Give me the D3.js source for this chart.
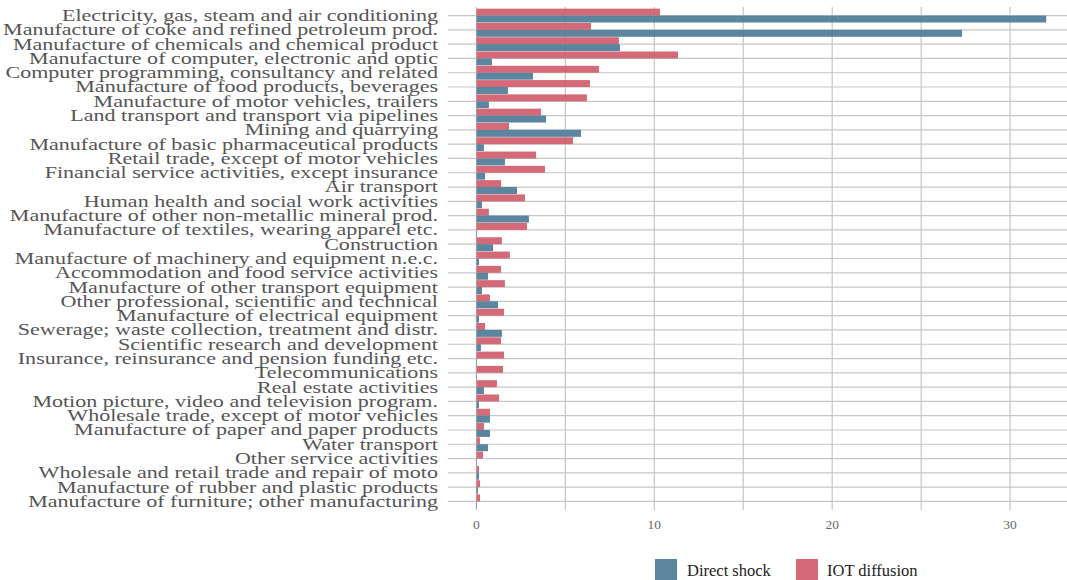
<!DOCTYPE html>
<html><head><meta charset="utf-8">
<script src="https://cdn.jsdelivr.net/npm/d3@7"></script>
<style>
html,body{margin:0;padding:0;background:#fff;}
svg{display:block;}
</style></head>
<body>
<svg id="chart" width="1067" height="580"></svg>
<script>
const categories = [
"Electricity, gas, steam and air conditioning",
"Manufacture of coke and refined petroleum prod.",
"Manufacture of chemicals and chemical product",
"Manufacture of computer, electronic and optic",
"Computer programming, consultancy and related",
"Manufacture of food products, beverages",
"Manufacture of motor vehicles, trailers",
"Land transport and transport via pipelines",
"Mining and quarrying",
"Manufacture of basic pharmaceutical products",
"Retail trade, except of motor vehicles",
"Financial service activities, except insurance",
"Air transport",
"Human health and social work activities",
"Manufacture of other non-metallic mineral prod.",
"Manufacture of textiles, wearing apparel etc.",
"Construction",
"Manufacture of machinery and equipment n.e.c.",
"Accommodation and food service activities",
"Manufacture of other transport equipment",
"Other professional, scientific and technical",
"Manufacture of electrical equipment",
"Sewerage; waste collection, treatment and distr.",
"Scientific research and development",
"Insurance, reinsurance and pension funding etc.",
"Telecommunications",
"Real estate activities",
"Motion picture, video and television program.",
"Wholesale trade, except of motor vehicles",
"Manufacture of paper and paper products",
"Water transport",
"Other service activities",
"Wholesale and retail trade and repair of moto",
"Manufacture of rubber and plastic products",
"Manufacture of furniture; other manufacturing"
];
const directShock = [32.03,27.3,8.07,0.87,3.18,1.77,0.70,3.91,5.88,0.42,1.60,0.48,2.28,0.31,2.95,0.03,0.93,0.14,0.65,0.31,1.21,0.14,1.43,0.25,0.03,0.03,0.42,0.14,0.76,0.76,0.65,0.03,0.14,0.08,0.03];
const iotDiffusion = [10.32,6.44,8.01,11.33,6.89,6.38,6.21,3.63,1.83,5.43,3.35,3.85,1.38,2.73,0.70,2.84,1.43,1.88,1.38,1.60,0.76,1.55,0.48,1.38,1.55,1.49,1.15,1.27,0.76,0.42,0.20,0.37,0.14,0.20,0.20];
const seriesNames = ["Direct shock","IOT diffusion"];
const xTicks = [0,10,20,30];
const gridTicks = [0,5,10,15,20,25,30];

const colors = {"Direct shock":"#4a7896","IOT diffusion":"#cf5a68"};
const svg = d3.select("#chart");
const fontFam = "'Liberation Serif', 'DejaVu Serif', serif";

const L = 448, R = 1067, T = 7, B = 510;
const x = d3.scaleLinear().domain([-1.6, 33.2]).range([L, R]);
const y = d3.scaleBand().domain(categories).range([T, B]).paddingInner(0).paddingOuter(0.1);
const sub = d3.scaleBand().domain(["IOT diffusion","Direct shock"]).range([0, y.bandwidth()]).paddingInner(0).paddingOuter(0.03);
const gridColor = "#c6c6c6";

// gridlines
svg.append("g").selectAll("line").data(gridTicks).join("line")
  .attr("x1", d => x(d)).attr("x2", d => x(d)).attr("y1", T).attr("y2", B)
  .attr("stroke", gridColor).attr("stroke-width", 1.2);
svg.append("g").selectAll("line").data(categories).join("line")
  .attr("x1", L).attr("x2", R)
  .attr("y1", d => y(d) + y.bandwidth()/2).attr("y2", d => y(d) + y.bandwidth()/2)
  .attr("stroke", gridColor).attr("stroke-width", 1.2);

// bars
const rows = categories.map((c,i) => ({c, vals:[{s:"IOT diffusion", v:iotDiffusion[i]},{s:"Direct shock", v:directShock[i]}]}));
const g = svg.append("g").selectAll("g").data(rows).join("g")
  .attr("transform", d => `translate(0,${y(d.c)})`);
g.selectAll("rect").data(d => d.vals).join("rect")
  .attr("x", x(0)).attr("y", d => sub(d.s))
  .attr("width", d => x(d.v) - x(0)).attr("height", sub.bandwidth())
  .attr("fill", d => colors[d.s]).attr("fill-opacity", 0.9);

// category labels
const labelFs = 17;
const labels = svg.append("g").selectAll("text").data(categories).join("text")
  .attr("x", 438).attr("y", d => y(d) + y.bandwidth()/2)
  .attr("dy", "0.32em").attr("text-anchor", "end")
  .attr("font-family", fontFam).attr("font-size", labelFs).attr("fill", "#555")
  .text(d => d);
// widen glyphs so the first label spans the reference width (~376px)
const k = 376 / labels.node().getComputedTextLength();
labels.each(function(){
  const w = this.getComputedTextLength();
  d3.select(this).attr("textLength", w * k).attr("lengthAdjust", "spacingAndGlyphs");
});

// x axis tick labels
svg.append("g").selectAll("text").data(xTicks).join("text")
  .attr("x", d => x(d)).attr("y", 529).attr("text-anchor", "middle")
  .attr("font-family", fontFam).attr("font-size", 13.5).attr("fill", "#666")
  .text(d => d);

// legend
const leg = svg.append("g");
const legItems = [{s:"Direct shock", x:655, tx:687},{s:"IOT diffusion", x:796, tx:827}];
leg.selectAll("rect").data(legItems).join("rect")
  .attr("x", d => d.x).attr("y", 559).attr("width", 22).attr("height", 21)
  .attr("fill", d => colors[d.s]).attr("fill-opacity", 0.9);
leg.selectAll("text").data(legItems).join("text")
  .attr("x", d => d.tx).attr("y", 575.5)
  .attr("font-family", fontFam).attr("font-size", 16.5).attr("fill", "#222")
  .text(d => d.s);
</script>
</body></html>
